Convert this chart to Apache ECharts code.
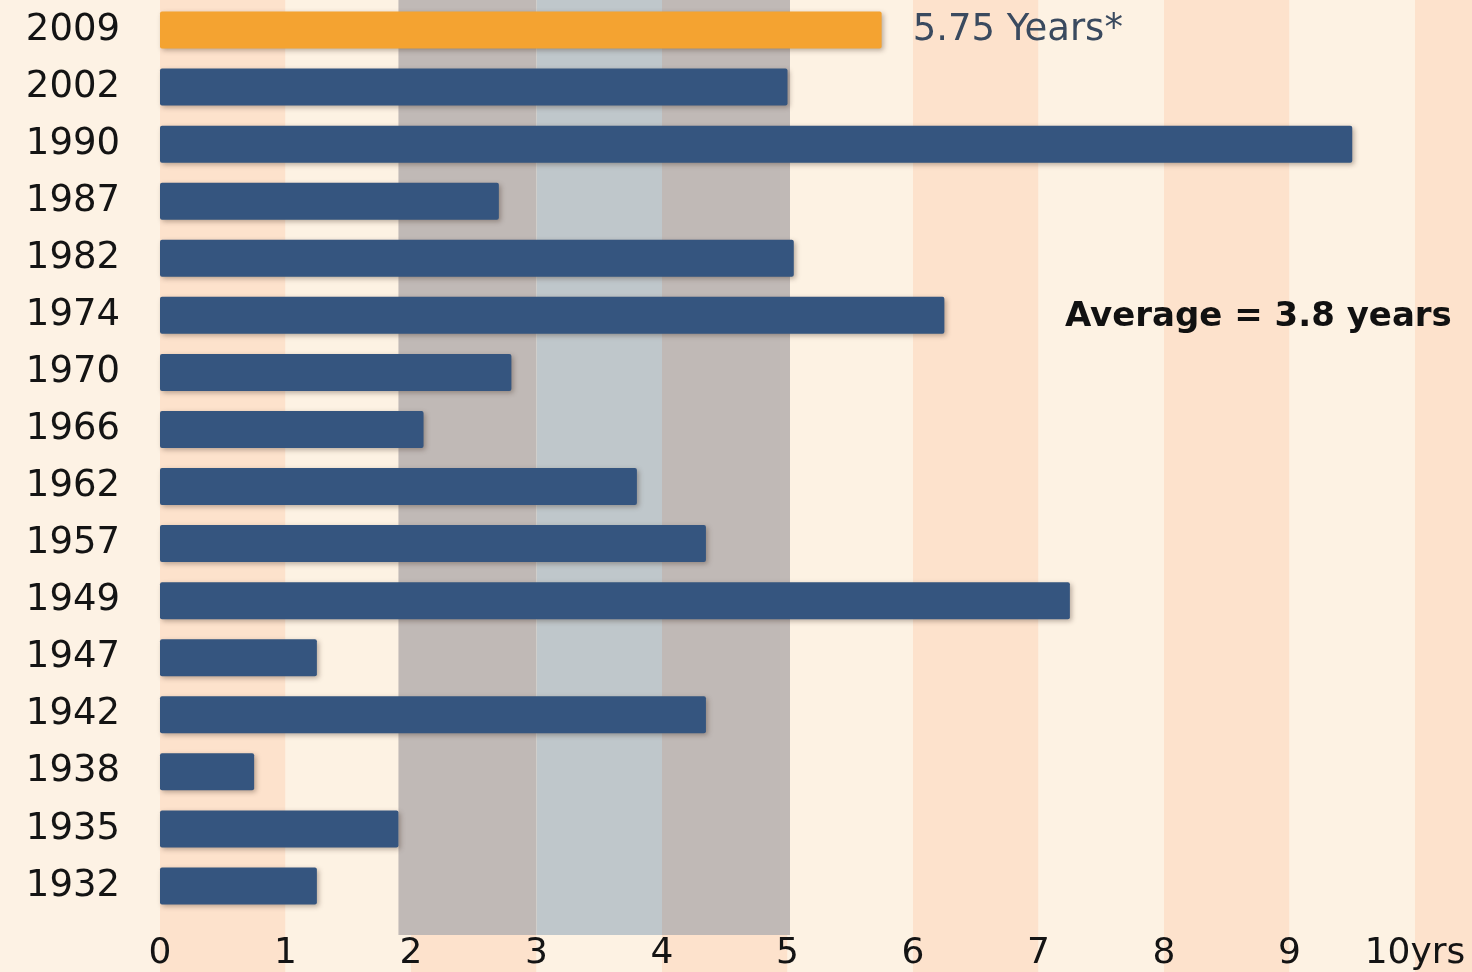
<!DOCTYPE html>
<html>
<head>
<meta charset="utf-8">
<script src="https://cdn.jsdelivr.net/npm/echarts@6/dist/echarts.min.js"></script>
<style>
  html, body { margin: 0; padding: 0; background: #fdf2e4; }
  #chart { width: 1472px; height: 972px; }
</style>
</head>
<body>
<div id="chart"></div>
<script>
// Recession years, newest first
const years = ['2009', '2002', '1990', '1987', '1982', '1974', '1970', '1966',
               '1962', '1957', '1949', '1947', '1942', '1938', '1935', '1932'];
// Length of each period in years
const durations = [5.75, 5.0, 9.5, 2.7, 5.05, 6.25, 2.8, 2.1,
                   3.8, 4.35, 7.25, 1.25, 4.35, 0.75, 1.9, 1.25];
const highlightYear = '2009';
// Axis ticks (years)
const xTicks = [0, 1, 2, 3, 4, 5, 6, 7, 8, 9, 10];
// Alternating background stripes, one per year of the axis
const stripeEdges = [0, 1, 2, 3, 4, 5, 6, 7, 8, 9, 10, 11];
// Shaded zone between roughly 2 and 5 years
const zoneEdges = [1.9, 3, 4, 5.02];
const averageText = 'Average = 3.8 years';

const UNIT = 125.5;           // pixels per year on every grid
const LEFT = 160;
const FULL_W = 1472 - LEFT;
const FULL_MAX = FULL_W / UNIT;

const font = 'DejaVu Sans';

function stripes(colorFor) {
  return function (params, api) {
    const i = params.dataIndex;
    const cs = params.coordSys;
    const x0 = api.coord([api.value(0), 0])[0];
    const x1 = api.coord([api.value(1), 0])[0];
    return {
      type: 'rect',
      shape: { x: x0, y: cs.y, width: x1 - x0, height: cs.height },
      style: { fill: colorFor(i) }
    };
  };
}

const stripeData = stripeEdges.slice(0, -1).map((v, i) => [v, stripeEdges[i + 1]]);
const zoneData = zoneEdges.slice(0, -1).map((v, i) => [v, zoneEdges[i + 1]]);

const chart = echarts.init(document.getElementById('chart'), null, { renderer: 'canvas' });

chart.setOption({
  backgroundColor: '#fdf2e4',
  animation: false,
  title: {
    text: averageText,
    left: 1060,
    top: 295,
    z: 10,
    textStyle: { fontFamily: font, fontWeight: 'bold', fontSize: 34, color: '#111' }
  },
  grid: [
    { left: LEFT, top: 0, width: FULL_W, bottom: 0 },
    { left: LEFT, top: 0, width: FULL_W, bottom: 37 },
    { left: LEFT, top: 1.5, width: UNIT * 10, height: 913 }
  ],
  xAxis: [
    { gridIndex: 0, type: 'value', min: 0, max: FULL_MAX, show: false },
    { gridIndex: 1, type: 'value', min: 0, max: FULL_MAX, show: false },
    {
      gridIndex: 2, type: 'value', min: 0, max: 10, interval: 1, z: 10,
      axisLine: { show: false }, axisTick: { show: false }, splitLine: { show: false },
      axisLabel: {
        margin: 21,
        fontFamily: font, fontSize: 36, color: '#141414',
        formatter: v => (xTicks.indexOf(v) < 0 ? '' : (v === 10 ? v + 'yrs' : String(v)))
      }
    }
  ],
  yAxis: [
    { gridIndex: 0, type: 'value', show: false },
    { gridIndex: 1, type: 'value', show: false },
    {
      gridIndex: 2, type: 'category', data: years, inverse: true, z: 10,
      axisLine: { show: false }, axisTick: { show: false },
      axisLabel: { margin: 40, fontFamily: font, fontSize: 37, color: '#141414' }
    }
  ],
  series: [
    {
      type: 'custom', xAxisIndex: 0, yAxisIndex: 0, silent: true, z: 0,
      renderItem: stripes(i => (i % 2 === 0 ? '#fde2cc' : '#fdf2e3')),
      data: stripeData, clip: true
    },
    {
      type: 'custom', xAxisIndex: 1, yAxisIndex: 1, silent: true, z: 1,
      renderItem: stripes(i => (i === 1 ? '#bfc7cb' : '#c0b9b6')),
      data: zoneData, clip: true
    },
    {
      type: 'bar', xAxisIndex: 2, yAxisIndex: 2, z: 5,
      barWidth: 37,
      data: durations.map((v, i) => ({
        value: v,
        itemStyle: { color: years[i] === highlightYear ? '#f4a331' : '#35557f' },
        label: years[i] === highlightYear ? {
          show: true, position: 'right', distance: 31,
          fontFamily: font, fontSize: 37, color: '#3a4a5f',
          formatter: p => p.value + ' Years*'
        } : { show: false }
      })),
      itemStyle: {
        borderRadius: 2,
        shadowBlur: 5, shadowColor: 'rgba(60,40,30,0.35)',
        shadowOffsetX: 2, shadowOffsetY: 2
      }
    }
  ]
});
</script>
</body>
</html>
